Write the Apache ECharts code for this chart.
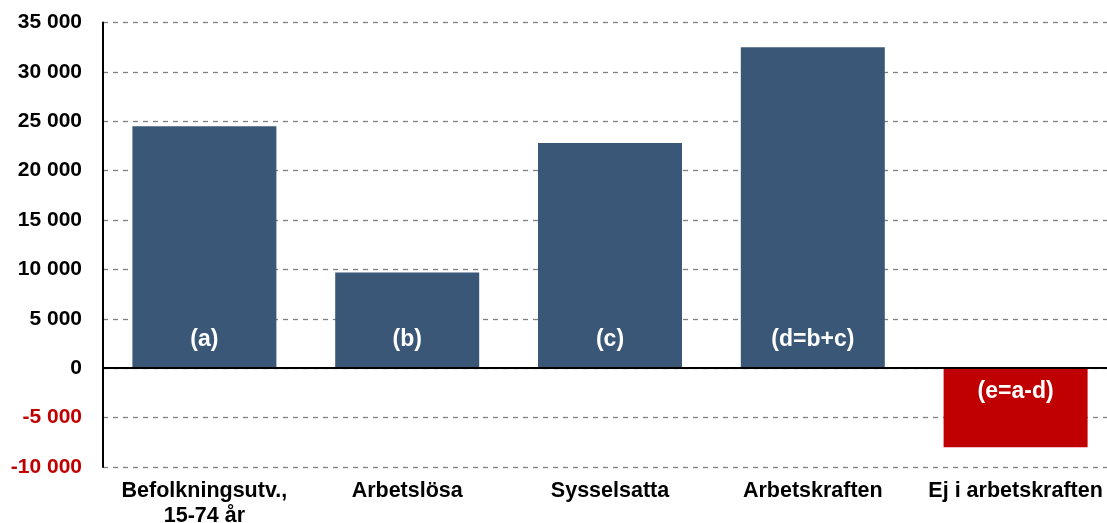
<!DOCTYPE html>
<html><head><meta charset="utf-8">
<script src="https://cdn.jsdelivr.net/npm/echarts@6/dist/echarts.min.js"></script>
<style>html,body{margin:0;padding:0;background:#fff}#c{width:1107px;height:523px}</style>
</head><body><div id="c"></div>
<script>
const categories = ['Befolkningsutv.,\n15-74 år', 'Arbetslösa', 'Sysselsatta', 'Arbetskraften', 'Ej i arbetskraften'];
const values = [24500, 9700, 22800, 32500, -8000];
const barLabels = ['(a)', '(b)', '(c)', '(d=b+c)', '(e=a-d)'];
const yTicks = [-10000, -5000, 0, 5000, 10000, 15000, 20000, 25000, 30000, 35000];

const chart = echarts.init(document.getElementById('c'), null, {renderer: 'canvas'});
const fmt = v => { const s = Math.abs(v).toString().replace(/\B(?=(\d{3})+(?!\d))/g, ' '); return (v < 0 ? '-' : '') + s; };
chart.setOption({
  animation: false,
  grid: {left: 103, width: 1014, top: 22.5, bottom: 56, containLabel: false, outerBoundsMode: 'none'},
  xAxis: {
    type: 'category', data: categories,
    axisLine: {show: false}, axisTick: {show: false},
    axisLabel: {fontFamily: 'Liberation Sans, Arial', fontWeight: 'bold', fontSize: 21.5, color: '#000', margin: 12, lineHeight: 25, interval: 0}
  },
  yAxis: {
    type: 'value', min: yTicks[0], max: yTicks[yTicks.length - 1], interval: 5000,
    axisLine: {show: true, lineStyle: {color: '#000', width: 2}},
    axisTick: {show: false},
    splitLine: {show: true, lineStyle: {color: '#808080', type: [5, 5], width: 1.3}},
    axisLabel: {fontFamily: 'Liberation Sans, Arial', fontWeight: 'bold', fontSize: 21, margin: 21,
      color: v => (v < 0 ? '#c00000' : '#000'), formatter: fmt}
  },
  series: [{
    type: 'bar', barCategoryGap: '29%',
    data: values.map((v, i) => ({
      value: v,
      itemStyle: {color: v < 0 ? '#c00000' : '#3a5778'},
      label: {show: true, formatter: barLabels[i], position: v < 0 ? 'insideTop' : 'insideBottom', distance: v < 0 ? 12 : 17}
    })),
    label: {color: '#fff', fontFamily: 'Liberation Sans, Arial', fontWeight: 'bold', fontSize: 23},
    markLine: {silent: true, symbol: 'none', label: {show: false},
      lineStyle: {color: '#000', type: 'solid', width: 2}, data: [{yAxis: 0}]}
  }]
});
</script></body></html>
